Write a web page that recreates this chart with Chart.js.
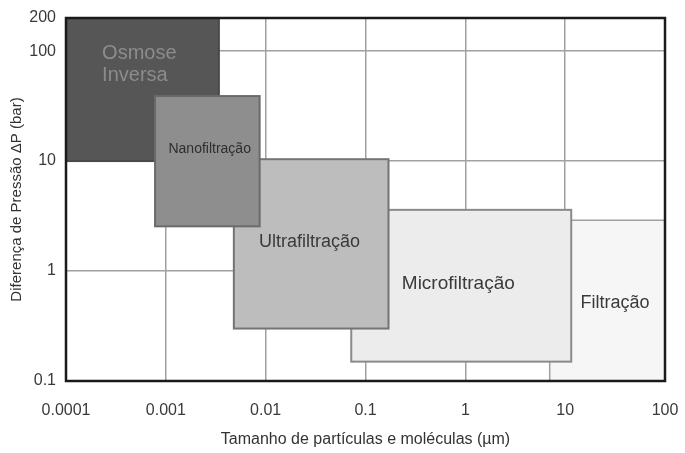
<!DOCTYPE html>
<html>
<head>
<meta charset="utf-8">
<script src="https://cdn.jsdelivr.net/npm/chart.js@4/dist/chart.umd.min.js"></script>
<style>
  html, body { margin: 0; padding: 0; background: #fff; }
  #wrap { width: 685px; height: 453px; }
</style>
</head>
<body>
<div id="wrap"><canvas id="chart"></canvas></div>
<script>
// regiões de separação por membranas (ordem = ordem de desenho)
const regionNames = ['Filtração', 'Microfiltração', 'Ultrafiltração', 'Osmose Inversa', 'Nanofiltração'];
const sizeMin = [7, 0.072, 0.0048, 0.0001, 0.00078];
const sizeMax = [100, 11.5, 0.17, 0.0034, 0.0087];
const pressureMin = [0.1, 0.15, 0.30, 10, 2.55];
const pressureMax = [2.9, 3.6, 10.4, 200, 39];

const xTicks = [0.0001, 0.001, 0.01, 0.1, 1, 10, 100];
const yTicks = [0.1, 1, 10, 100, 200];

// estilo de cada região
const fills = ['#f6f6f6', '#ececec', '#bdbdbd', '#565656', '#8e8e8e'];
const strokes = [null, '#8a8a8a', '#747474', '#4a4a4a', '#6a6a6a'];
const textColors = ['#3a3a3a', '#3a3a3a', '#3a3a3a', '#8c8c8c', '#2e2e2e'];
const fontSizes = [18, 19, 18, 20, 14];
// ponto (tamanho, pressão) onde vai o rótulo
const labelX = [31.6, 0.85, 0.0275, 0.00023, 0.00275];
const labelY = [0.51, 0.77, 1.82, 76, 12.9];
const FONT = '"Liberation Sans", Arial, sans-serif';

const regionsPlugin = {
  id: 'regions',
  beforeDatasetsDraw(chart) {
    const { ctx, chartArea, scales: { x, y } } = chart;
    ctx.save();
    ctx.beginPath();
    ctx.rect(chartArea.left, chartArea.top, chartArea.right - chartArea.left, chartArea.bottom - chartArea.top);
    ctx.clip();
    regionNames.forEach((name, i) => {
      const x0 = x.getPixelForValue(sizeMin[i]);
      const x1 = x.getPixelForValue(sizeMax[i]);
      const y0 = y.getPixelForValue(pressureMax[i]);
      const y1 = y.getPixelForValue(pressureMin[i]);
      ctx.fillStyle = fills[i];
      ctx.fillRect(x0, y0, x1 - x0, y1 - y0);
      if (strokes[i]) {
        ctx.strokeStyle = strokes[i];
        ctx.lineWidth = 2;
        ctx.strokeRect(x0, y0, x1 - x0, y1 - y0);
      } else {
        // Filtração: só as bordas superior e esquerda
        ctx.strokeStyle = '#a0a0a0';
        ctx.lineWidth = 1.5;
        ctx.beginPath();
        ctx.moveTo(x0, y1);
        ctx.lineTo(x0, y0);
        ctx.lineTo(x1, y0);
        ctx.stroke();
      }
    });
    regionNames.forEach((name, i) => {
      const px = x.getPixelForValue(labelX[i]);
      const py = y.getPixelForValue(labelY[i]);
      ctx.fillStyle = textColors[i];
      ctx.font = fontSizes[i] + 'px ' + FONT;
      ctx.textBaseline = 'middle';
      if (name === 'Osmose Inversa') {
        ctx.textAlign = 'left';
        ctx.fillText('Osmose', px, py - 11);
        ctx.fillText('Inversa', px, py + 11);
      } else {
        ctx.textAlign = 'center';
        ctx.fillText(name, px, py);
      }
    });
    ctx.restore();
  },
  afterDraw(chart) {
    const { ctx, chartArea } = chart;
    ctx.save();
    ctx.strokeStyle = '#1a1a1a';
    ctx.lineWidth = 2.5;
    ctx.strokeRect(chartArea.left, chartArea.top, chartArea.right - chartArea.left, chartArea.bottom - chartArea.top);
    ctx.restore();
  },
};

new Chart(document.getElementById('chart'), {
  type: 'scatter',
  data: { datasets: [{ data: [{ x: 1, y: 1 }], pointRadius: 0 }] },
  options: {
    responsive: true,
    maintainAspectRatio: false,
    animation: false,
    layout: { padding: { top: 18, right: 20, left: 0, bottom: 0 } },
    plugins: { legend: { display: false }, tooltip: { enabled: false } },
    scales: {
      x: {
        type: 'logarithmic',
        min: 0.0001,
        max: 100,
        afterBuildTicks: (s) => { s.ticks = xTicks.map((v) => ({ value: v })); },
        afterFit: (s) => { s.height = 72; s.paddingLeft = 0; s.paddingRight = 0; },
        grid: { color: '#a0a0a0', lineWidth: 1.5, drawTicks: false },
        border: { display: false },
        ticks: {
          padding: 20,
          color: '#3a3a3a',
          font: { family: FONT, size: 16 },
          maxRotation: 0,
          callback: (v) => String(v),
        },
        title: {
          display: true,
          text: 'Tamanho de partículas e moléculas (µm)',
          color: '#333',
          font: { family: FONT, size: 16 },
          padding: { top: 11 },
        },
      },
      y: {
        type: 'logarithmic',
        min: 0.1,
        max: 200,
        afterBuildTicks: (s) => { s.ticks = yTicks.map((v) => ({ value: v })); },
        afterFit: (s) => { s.width = 66; s.paddingTop = 0; s.paddingBottom = 0; },
        grid: {
          color: (c) => (c.tick && c.tick.value === 200 ? 'rgba(0,0,0,0)' : '#a0a0a0'),
          lineWidth: 1.5,
          drawTicks: false,
        },
        border: { display: false },
        ticks: {
          padding: 10,
          color: '#3a3a3a',
          font: { family: FONT, size: 16 },
          callback: (v) => String(v),
        },
        title: {
          display: true,
          text: 'Diferença de Pressão ΔP (bar)',
          color: '#333',
          font: { family: FONT, size: 15 },
          padding: { top: 8, bottom: 0 },
        },
      },
    },
  },
  plugins: [regionsPlugin],
});
</script>
</body>
</html>
